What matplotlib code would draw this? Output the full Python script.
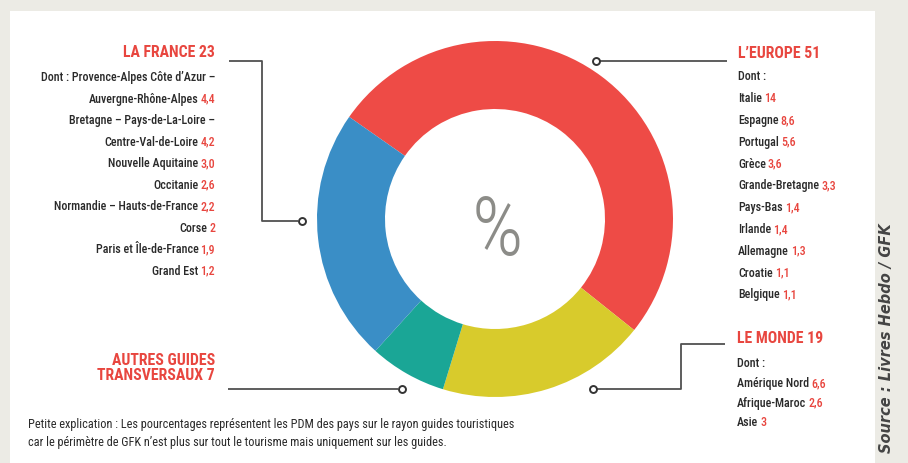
import matplotlib
matplotlib.use("Agg")
import matplotlib.pyplot as plt
from matplotlib import font_manager as fm
from matplotlib.patches import Rectangle

# parts de marché des guides touristiques (%)
groupes = ["L’EUROPE", "LE MONDE", "AUTRES GUIDES\nTRANSVERSAUX", "LA FRANCE"]
parts = [51, 19, 7, 23]
couleurs = ["#EE4B46", "#D8CB2C", "#1AA696", "#3A8EC6"]

france_lignes = ["Dont : Provence-Alpes Côte d’Azur –", "Auvergne-Rhône-Alpes",
                 "Bretagne – Pays-de-La-Loire –", "Centre-Val-de-Loire",
                 "Nouvelle Aquitaine", "Occitanie", "Normandie – Hauts-de-France",
                 "Corse", "Paris et Île-de-France", "Grand Est"]
france_valeurs = ["", "4,4", "", "4,2", "3,0", "2,6", "2,2", "2", "1,9", "1,2"]

europe_lignes = ["Dont :", "Italie", "Espagne", "Portugal", "Grèce", "Grande-Bretagne",
                 "Pays-Bas", "Irlande", "Allemagne", "Croatie", "Belgique"]
europe_valeurs = ["", "14", "8,6", "5,6", "3,6", "3,3", "1,4", "1,4", "1,3", "1,1", "1,1"]

monde_lignes = ["Dont :", "Amérique Nord", "Afrique-Maroc", "Asie"]
monde_valeurs = ["", "6,6", "2,6", "3"]

note = ["Petite explication : Les pourcentages représentent les PDM des pays sur le rayon guides touristiques",
        "car le périmètre de GFK n’est plus sur tout le tourisme mais uniquement sur les guides."]
source = "Source : Livres Hebdo / GFK"

W, H = 908, 464
ROUGE = "#E8463F"
GRIS = "#2A2A2A"
TRAIT = "#505050"

# police la plus étroite disponible
noms = {f.name for f in fm.fontManager.ttflist}
ETROIT = dict(family="DejaVu Sans")
for nom in ["Liberation Sans Narrow", "Roboto Condensed", "Open Sans Condensed",
            "Noto Sans Condensed", "Roboto", "Liberation Sans"]:
    if nom in noms:
        ETROIT = dict(family=nom)
        break


def Y(y):
    return H - y


fig = plt.figure(figsize=(W / 100, H / 100), dpi=100, facecolor="#ECEBE5")
ax = fig.add_axes([0, 0, 1, 1])
ax.pie(parts, colors=couleurs, startangle=145, counterclock=False, radius=178,
       center=(495, Y(220)), wedgeprops=dict(width=68, edgecolor="none"))
ax.set_xlim(0, W)
ax.set_ylim(0, H)
ax.set_aspect("auto")
ax.axis("off")
ax.add_patch(Rectangle((10, 0), 865, H - 12, facecolor="white", edgecolor="none", zorder=0))

R = fig.canvas.get_renderer()


def largeur(t):
    return t.get_window_extent(R).width


def ajuste(txt, cible, **kw):
    t = ax.text(0, 0, txt, fontsize=10, **kw)
    w = largeur(t)
    t.remove()
    return 10 * cible / w


POIDS = "medium"
fs_corps = ajuste(france_lignes[0], 174, weight=POIDS, **ETROIT)
fs_titre = ajuste(groupes[3] + " " + str(parts[3]), 92, weight="bold", **ETROIT)
cap_corps = 0.72 * fs_corps * 100 / 72
cap_titre = 0.72 * fs_titre * 100 / 72


def ligne_droite(x, yc, lab, val):
    # aligné à droite : valeur rouge puis libellé
    yb = Y(yc + cap_corps / 2)
    dx = 0
    if val:
        t = ax.text(x, yb, val, color=ROUGE, fontsize=fs_corps, weight=POIDS,
                    ha="right", va="baseline", **ETROIT)
        dx = largeur(t) + 2
    ax.text(x - dx, yb, lab, color=GRIS, fontsize=fs_corps, weight=POIDS,
            ha="right", va="baseline", **ETROIT)


def ligne_gauche(x, yc, lab, val):
    yb = Y(yc + cap_corps / 2)
    t = ax.text(x, yb, lab, color=GRIS, fontsize=fs_corps, weight=POIDS,
                ha="left", va="baseline", **ETROIT)
    if val:
        ax.text(x + largeur(t) + 2, yb, val, color=ROUGE, fontsize=fs_corps,
                weight=POIDS, ha="left", va="baseline", **ETROIT)


def titre(x, yc, txt, ha):
    ax.text(x, Y(yc + cap_titre / 2), txt, color=ROUGE, fontsize=fs_titre, weight="bold",
            ha=ha, va="baseline", multialignment=ha, linespacing=0.95, **ETROIT)


# La France
titre(215, 51, groupes[3] + " " + str(parts[3]), "right")
for i, (lab, val) in enumerate(zip(france_lignes, france_valeurs)):
    ligne_droite(215, 77 + i * 21.5, lab, val)

# L'Europe
titre(738, 52, groupes[0] + " " + str(parts[0]), "left")
for i, (lab, val) in enumerate(zip(europe_lignes, europe_valeurs)):
    ligne_gauche(738, 76 + i * 21.8, lab, val)

# Le monde
titre(737, 337, groupes[1] + " " + str(parts[1]), "left")
for i, (lab, val) in enumerate(zip(monde_lignes, monde_valeurs)):
    ligne_gauche(737, 363 + i * 19.6, lab, val)

# Autres guides
titre(215, 374, groupes[2] + " " + str(parts[2]), "right")

# traits de rappel
kw_trait = dict(color=TRAIT, lw=1.3, solid_capstyle="butt", zorder=3)
kw_rond = dict(marker="o", ms=5, mfc="white", mec="#333333", mew=1.4, zorder=4)
ax.plot([229, 262, 262, 298], [Y(62), Y(62), Y(222), Y(222)], **kw_trait)
ax.plot([302], [Y(222)], **kw_rond)
ax.plot([600, 727], [Y(62), Y(62)], **kw_trait)
ax.plot([596], [Y(62)], **kw_rond)
ax.plot([725, 681, 681, 597], [Y(345), Y(345), Y(390), Y(390)], **kw_trait)
ax.plot([593], [Y(390)], **kw_rond)
ax.plot([228, 398], [Y(390), Y(390)], **kw_trait)
ax.plot([402], [Y(390)], **kw_rond)

# centre
ax.text(497, Y(233), "%", color="#8C8C88", fontsize=58, weight="light",
        ha="center", va="center", **ETROIT)

# note en bas
fs_note = ajuste(note[0], 482, **ETROIT)
for i, txt in enumerate(note):
    ax.text(28, Y(425 + i * 18), txt, color=GRIS, fontsize=fs_note, ha="left",
            va="center", **ETROIT)

# source verticale
ax.text(887, Y(338), source, color="#444444", fontsize=10.5, style="italic", weight="bold",
        rotation=90, ha="center", va="center")

fig.savefig("out.png", dpi=100, facecolor=fig.get_facecolor())
